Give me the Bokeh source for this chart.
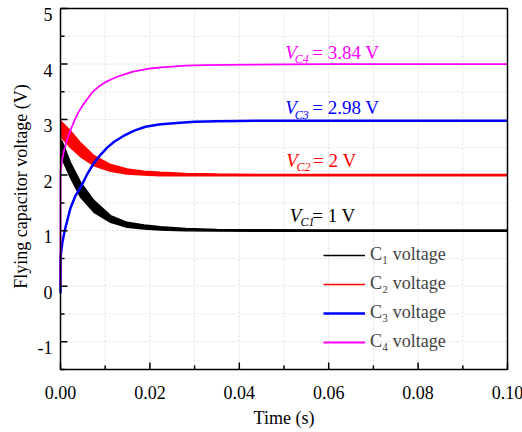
import math
from bokeh.plotting import figure
from bokeh.models import ColumnDataSource, Legend, LegendItem, Range1d
from bokeh.core.properties import value
from bokeh.embed import file_html
from bokeh.resources import INLINE

# ---- data ----
t_c1 = [0.0, 0.0004, 0.0022, 0.0045, 0.0075, 0.0112, 0.0149, 0.0187, 0.0224,
        0.028, 0.035, 0.045, 0.06, 0.1]
c1_upper = [2.64, 2.60, 2.23, 1.87, 1.54, 1.27, 1.15, 1.10, 1.07,
            1.04, 1.02, 1.015, 1.01, 1.01]
c1_lower = [2.33, 2.28, 1.96, 1.60, 1.33, 1.15, 1.06, 1.03, 1.01,
            1.00, 0.995, 0.99, 0.99, 0.99]

t_c2 = [0.0, 0.0022, 0.0045, 0.0075, 0.0112, 0.0149, 0.0187, 0.0224, 0.028,
        0.035, 0.045, 0.06, 0.1]
c2_upper = [2.98, 2.80, 2.58, 2.35, 2.19, 2.11, 2.07, 2.05, 2.03,
            2.02, 2.01, 2.01, 2.01]
c2_lower = [2.70, 2.50, 2.33, 2.17, 2.07, 2.02, 2.00, 1.99, 1.99,
            1.99, 1.99, 1.99, 1.99]

t_c3 = [0.0, 0.00003, 0.0004, 0.001, 0.0022, 0.0033, 0.0045, 0.006, 0.0075,
        0.009, 0.0105, 0.012, 0.014, 0.0165, 0.019, 0.022, 0.026, 0.03,
        0.035, 0.04, 0.05, 0.07, 0.1]
c3 = [-0.13, 0.53, 0.78, 1.02, 1.40, 1.62, 1.78, 2.02, 2.22,
      2.37, 2.50, 2.60, 2.70, 2.80, 2.87, 2.91, 2.94, 2.96,
      2.97, 2.975, 2.98, 2.98, 2.98]

t_c4 = [0.0, 0.00002, 0.0003, 0.0008, 0.0014, 0.002, 0.0026, 0.0032, 0.004,
        0.005, 0.006, 0.0072, 0.0085, 0.01, 0.0115, 0.013, 0.0145, 0.016,
        0.018, 0.02, 0.0225, 0.025, 0.028, 0.032, 0.037, 0.043, 0.05, 0.06, 0.1]
c4 = [0.0, 2.05, 2.25, 2.45, 2.62, 2.76, 2.88, 3.00, 3.13,
      3.26, 3.37, 3.50, 3.59, 3.67, 3.73, 3.78, 3.82, 3.86,
      3.89, 3.92, 3.94, 3.955, 3.97, 3.98, 3.985, 3.99, 3.995, 4.0, 4.0]

x_ticks = [0.0, 0.02, 0.04, 0.06, 0.08, 0.10]
x_tick_labels = ["0.00", "0.02", "0.04", "0.06", "0.08", "0.10"]
x_minor = [0.01, 0.03, 0.05, 0.07, 0.09]
y_ticks = [-1, 0, 1, 2, 3, 4, 5]
y_tick_labels = ["-1", "0", "1", "2", "3", "4", "5"]
y_minor = [-1.5, -0.5, 0.5, 1.5, 2.5, 3.5, 4.5]

x_title = "Time (s)"
y_title = "Flying capacitor voltage (V)"

legend_labels = ["C\u2081 voltage", "C\u2082 voltage", "C\u2083 voltage", "C\u2084 voltage"]
colors = ["#000000", "#ff0000", "#0000ff", "#ff00ff"]

ann_x = [0.0503, 0.0503, 0.0505, 0.0513]
ann_y = [4.20, 3.21, 2.27, 1.27]
ann_sub = ["C4", "C3", "C2", "C1"]
ann_sub_x = [0.0524, 0.0524, 0.0528, 0.0537]
ann_sub_y = [4.09, 3.08, 2.14, 1.15]
ann_rest = ["= 3.84 V", "= 2.98 V", "= 2 V", "= 1 V"]
ann_rest_x = [0.0563, 0.0563, 0.0565, 0.0563]
ann_colors = ["#ff00ff", "#0000ff", "#ff0000", "#000000"]

FONT = "Liberation Serif"

# ---- layout: axes box inside a full-canvas frame ----
W, H = 522, 432
X0, X1, Y0, Y1 = 0.0, 0.1, -1.5, 5.0
BOX_L, BOX_R, BOX_T, BOX_B = 60, 507, 8, 369          # pixel edges of the axes box
kx = (X1 - X0) / (BOX_R - BOX_L)                      # data units per pixel
ky = (Y1 - Y0) / (BOX_B - BOX_T)
xr = Range1d(X0 - BOX_L * kx, X1 + (W - BOX_R) * kx)
yr = Range1d(Y0 - (H - BOX_B) * ky, Y1 + BOX_T * ky)

p = figure(width=W, height=H, output_backend="svg", toolbar_location=None,
           x_range=xr, y_range=yr, x_axis_location=None, y_axis_location=None,
           min_border=0)
p.outline_line_color = None
p.grid.visible = False
p.background_fill_color = "white"
p.border_fill_color = "white"

# grid (dashed, light grey) at major and minor positions inside the box
gx = [v for v in sorted(x_ticks + x_minor) if X0 < v < X1]
gy = [v for v in sorted(y_ticks + y_minor) if Y0 < v < Y1]
p.segment(x0=gx, y0=[Y0] * len(gx), x1=gx, y1=[Y1] * len(gx),
          line_color="#dcdcdc", line_width=1, line_dash="2 2")
p.segment(x0=[X0] * len(gy), y0=gy, x1=[X1] * len(gy), y1=gy,
          line_color="#dcdcdc", line_width=1, line_dash="2 2")

# curves
s1 = ColumnDataSource(dict(t=t_c1, up=c1_upper, lo=c1_lower))
s2 = ColumnDataSource(dict(t=t_c2, up=c2_upper, lo=c2_lower))
s3 = ColumnDataSource(dict(t=t_c3, v=c3))
s4 = ColumnDataSource(dict(t=t_c4, v=c4))

p.varea(x="t", y1="lo", y2="up", source=s1, fill_color=colors[0])
p.line("t", "up", source=s1, line_color=colors[0], line_width=1.5)
r1 = p.line("t", "lo", source=s1, line_color=colors[0], line_width=1.5)

p.varea(x="t", y1="lo", y2="up", source=s2, fill_color=colors[1])
p.line("t", "up", source=s2, line_color=colors[1], line_width=1.5)
r2 = p.line("t", "lo", source=s2, line_color=colors[1], line_width=1.5)

r3 = p.line("t", "v", source=s3, line_color=colors[2], line_width=2.5)
r4 = p.line("t", "v", source=s4, line_color=colors[3], line_width=1.8)

# axes box and inward ticks
p.quad(left=[X0], right=[X1], bottom=[Y0], top=[Y1], fill_alpha=0,
       line_color="black", line_width=1.5)
MAJ, MIN = 7, 4
p.segment(x0=x_ticks, y0=[Y0] * len(x_ticks), x1=x_ticks,
          y1=[Y0 + MAJ * ky] * len(x_ticks), line_color="black", line_width=1.5)
p.segment(x0=x_minor, y0=[Y0] * len(x_minor), x1=x_minor,
          y1=[Y0 + MIN * ky] * len(x_minor), line_color="black", line_width=1.5)
p.segment(x0=[X0] * len(y_ticks), y0=y_ticks, x1=[X0 + MAJ * kx] * len(y_ticks),
          y1=y_ticks, line_color="black", line_width=1.5)
p.segment(x0=[X0] * len(y_minor), y0=y_minor, x1=[X0 + MIN * kx] * len(y_minor),
          y1=y_minor, line_color="black", line_width=1.5)

# tick labels and titles
p.text(x=x_ticks, y=[Y0 - 23 * ky] * len(x_ticks), text=x_tick_labels,
       text_align="center", text_baseline="alphabetic", text_font=value(FONT),
       text_font_size="18px", text_color="black")
p.text(x=[X0 - 8 * kx] * len(y_ticks), y=[v - 6 * ky for v in y_ticks],
       text=y_tick_labels, text_align="right", text_baseline="alphabetic",
       text_font=value(FONT), text_font_size="18px", text_color="black")
p.text(x=[(X0 + X1) / 2], y=[Y0 - 48 * ky], text=[x_title], text_align="center",
       text_baseline="alphabetic", text_font=value(FONT), text_font_size="18px",
       text_color="black")
p.text(x=[X0 - 40 * kx], y=[Y1 - (186 - BOX_T) * ky], text=[y_title],
       angle=math.pi / 2, text_align="center", text_baseline="alphabetic",
       text_font=value(FONT), text_font_size="18px", text_color="black")

# value annotations
sa = ColumnDataSource(dict(x=ann_x, y=ann_y, sx=ann_sub_x, sy=ann_sub_y, sub=ann_sub,
                           rx=ann_rest_x, rest=ann_rest, c=ann_colors,
                           v=["V"] * 4))
p.text(x="x", y="y", text="v", source=sa, text_color="c", text_font=value(FONT),
       text_font_size="19px", text_font_style="italic", text_baseline="alphabetic")
p.text(x="sx", y="sy", text="sub", source=sa, text_color="c", text_font=value(FONT),
       text_font_size="12px", text_font_style="italic", text_baseline="alphabetic")
p.text(x="rx", y="y", text="rest", source=sa, text_color="c", text_font=value(FONT),
       text_font_size="19px", text_baseline="alphabetic")

legend = Legend(items=[LegendItem(label=lab, renderers=[r]) for lab, r in
                       zip(legend_labels, [r1, r2, r3, r4])])
legend.location = (BOX_L + 263, (H - BOX_B) + 17)
legend.border_line_alpha = 0
legend.background_fill_alpha = 0
legend.padding = 0
legend.margin = 0
legend.spacing = 8
legend.glyph_width = 42
legend.glyph_height = 20
legend.label_height = 20
legend.label_standoff = 5
legend.label_text_font = FONT
legend.label_text_font_size = "18px"
p.add_layout(legend)

open("out.html", "w").write(file_html(p, INLINE))
